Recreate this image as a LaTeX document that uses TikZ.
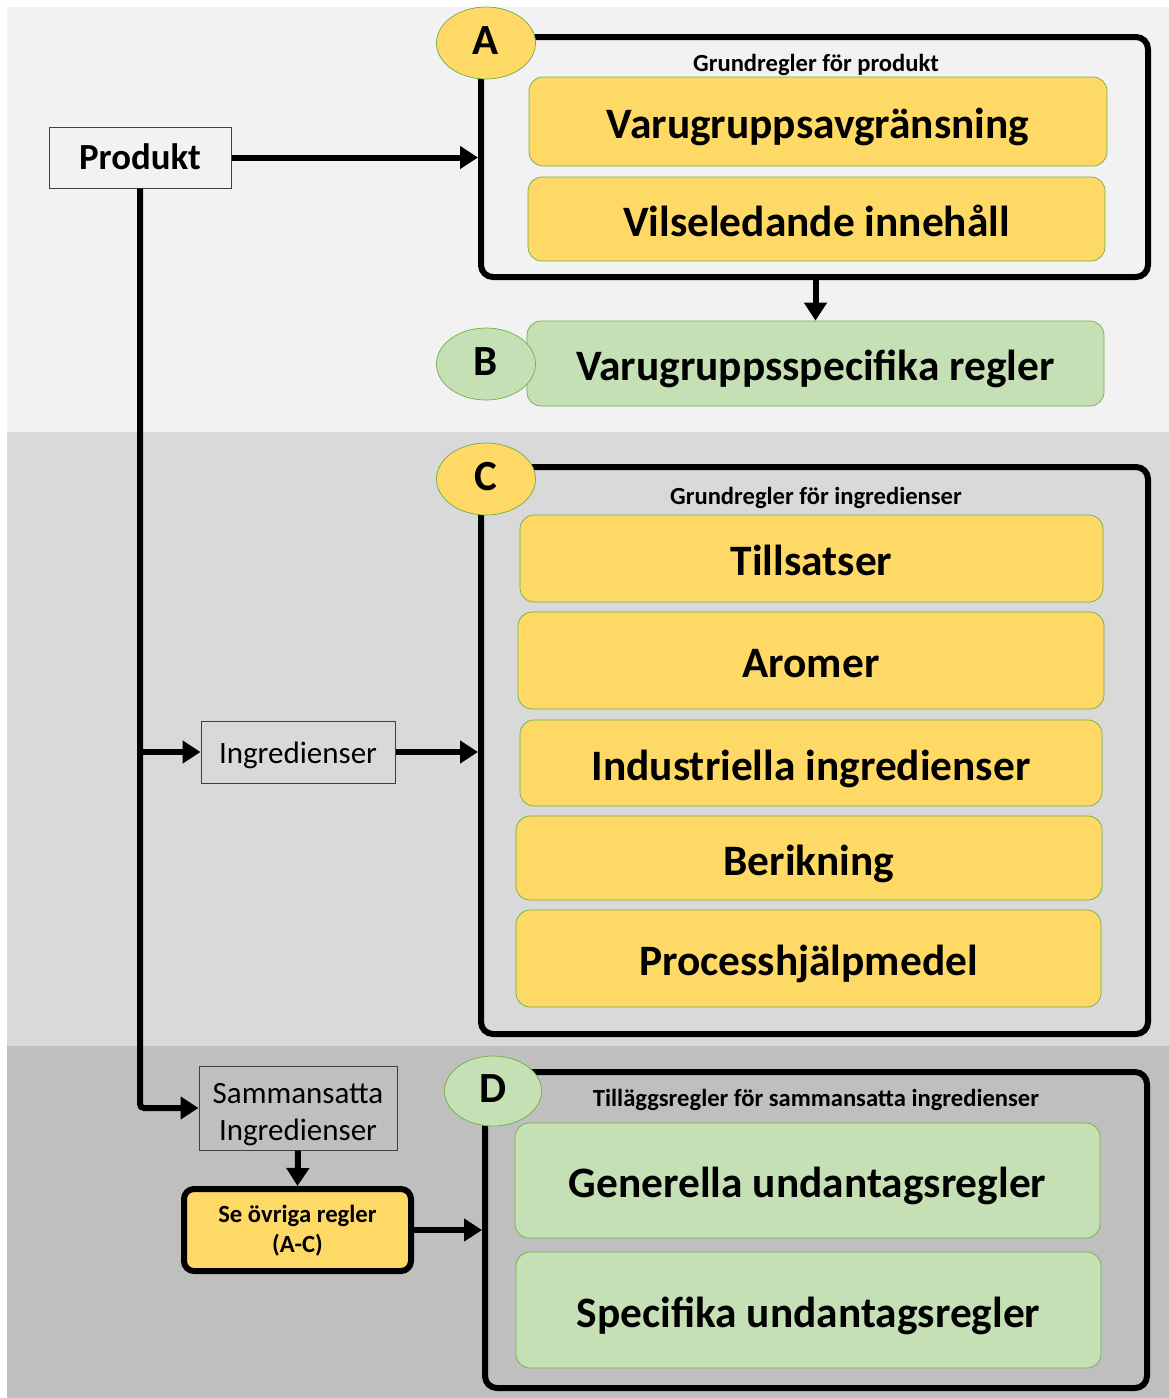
\documentclass[tikz,border=0pt]{standalone}
\usepackage{fontspec}
\setmainfont{Carlito}
\usetikzlibrary{arrows.meta,shapes.geometric}
\definecolor{band1}{HTML}{F2F2F2}
\definecolor{band2}{HTML}{D9D9D9}
\definecolor{band3}{HTML}{BFBFBF}
\definecolor{ylw}{HTML}{FFD966}
\definecolor{grn}{HTML}{C5E0B4}
\definecolor{gbord}{HTML}{70AD47}
\definecolor{dgray}{HTML}{404040}
\tikzset{
  rulebox/.style={rectangle, rounded corners=14pt, draw=gbord, line width=0.7pt, inner sep=0pt,
    font=\bfseries\fontsize{43.4}{48}\selectfont, text height=34pt, text depth=0pt},
  ybox/.style={rulebox, fill=ylw},
  gbox/.style={rulebox, fill=grn},
  frame/.style={rectangle, rounded corners=12pt, draw=black, line width=6pt, inner sep=0pt},
  tag/.style={ellipse, draw=gbord, line width=0.7pt, inner sep=0pt, minimum width=99pt, minimum height=72pt,
    font=\bfseries\fontsize{43}{48}\selectfont, text height=23pt, text depth=0pt},
  ftitle/.style={font=\bfseries\fontsize{24.6}{28}\selectfont, inner sep=0pt, text height=16pt, text depth=0pt},
  plain/.style={rectangle, draw=dgray, line width=1pt, inner sep=0pt, align=center,
    font=\fontsize{31}{37}\selectfont},
  arr/.style={draw=black, line width=6pt, -{Triangle[length=18pt,width=22pt]}},
}
\begin{document}
\begin{tikzpicture}[x=1pt,y=-1pt]
\useasboundingbox (0,0) rectangle (1169,1398);
% background bands
\fill[band1] (7,7) rectangle (1169,432);
\fill[band2] (7,432) rectangle (1169,1046);
\fill[band3] (7,1046) rectangle (1169,1398);

% A group
\node[frame, minimum width=667pt, minimum height=240pt] (Aframe) at (814.5,157) {};
\node[ftitle] (Atitle) at (816,63) {Grundregler för produkt};
\node[ybox, minimum width=578pt, minimum height=89pt] (varu) at (818,121.5) {Varugruppsavgränsning};
\node[ybox, minimum width=577pt, minimum height=84pt] (vils) at (816.5,219) {Vilseledande innehåll};
\node[tag, fill=ylw] (A) at (486,43) {A};

% B group
\node[gbox, minimum width=577pt, minimum height=85pt] (Bbox) at (815.5,363.5) {Varugruppsspecifika regler};
\node[tag, fill=grn] (B) at (486,364) {B};

% C group
\node[frame, minimum width=667pt, minimum height=567pt] (Cframe) at (814.5,750.5) {};
\node[ftitle] (Ctitle) at (816,496) {Grundregler för ingredienser};
\node[ybox, minimum width=583pt, minimum height=87pt] (till) at (811.5,558.5) {Tillsatser};
\node[ybox, minimum width=586pt, minimum height=97pt] (arom) at (811,660.5) {Aromer};
\node[ybox, minimum width=582pt, minimum height=86pt] (indu) at (811,763) {Industriella ingredienser};
\node[ybox, minimum width=586pt, minimum height=84pt] (beri) at (809,858) {Berikning};
\node[ybox, minimum width=585pt, minimum height=97pt] (proc) at (808.5,958.5) {Processhjälpmedel};
\node[tag, fill=ylw] (C) at (486,479) {C};

% D group
\node[frame, minimum width=662pt, minimum height=316pt] (Dframe) at (816,1230) {};
\node[ftitle] (Dtitle) at (816,1098) {Tilläggsregler för sammansatta ingredienser};
\node[gbox, minimum width=585pt, minimum height=115pt] (gene) at (807.5,1180.5) {Generella undantagsregler};
\node[gbox, minimum width=585pt, minimum height=116pt] (spec) at (808.5,1310) {Specifika undantagsregler};
\node[tag, fill=grn, minimum width=97pt, minimum height=70pt] (D) at (493,1091) {D};

% left side
\node[plain, fill=band1, minimum width=182pt, minimum height=61pt, font=\bfseries\fontsize{36.8}{40}\selectfont,
  text height=23pt, text depth=0pt] (prod) at (140,157.5) {Produkt};
\node[plain, minimum width=194pt, minimum height=62pt, text height=22pt, text depth=0pt] (ingr) at (298,752) {Ingredienser};
\node[plain, minimum width=198pt, minimum height=84pt, text height=64pt, text depth=0pt] (samm) at (298,1108) {Sammansatta\\Ingredienser};
\node[rectangle, rounded corners=10pt, draw=black, line width=6pt, fill=ylw, minimum width=227pt, minimum height=82pt,
  inner sep=0pt, align=center, font=\bfseries\fontsize{24.7}{30}\selectfont, text height=44pt, text depth=0pt] (se) at (297.5,1230) {Se övriga regler\\(A-C)};

% connectors
\draw[arr] (prod.east) -- (prod.east -| Aframe.west);
\draw[arr] (Aframe.south -| Bbox.north) -- (Bbox.north);
\draw[arr, rounded corners=4pt] (prod.south) |- (samm.west);
\draw[arr] (prod.south |- ingr.west) -- (ingr.west);
\draw[arr] (ingr.east) -- (ingr.east -| Cframe.west);
\draw[arr] (samm.south) -- (se.north);
\draw[arr] (se.east) -- (se.east -| Dframe.west);
\end{tikzpicture}
\end{document}
